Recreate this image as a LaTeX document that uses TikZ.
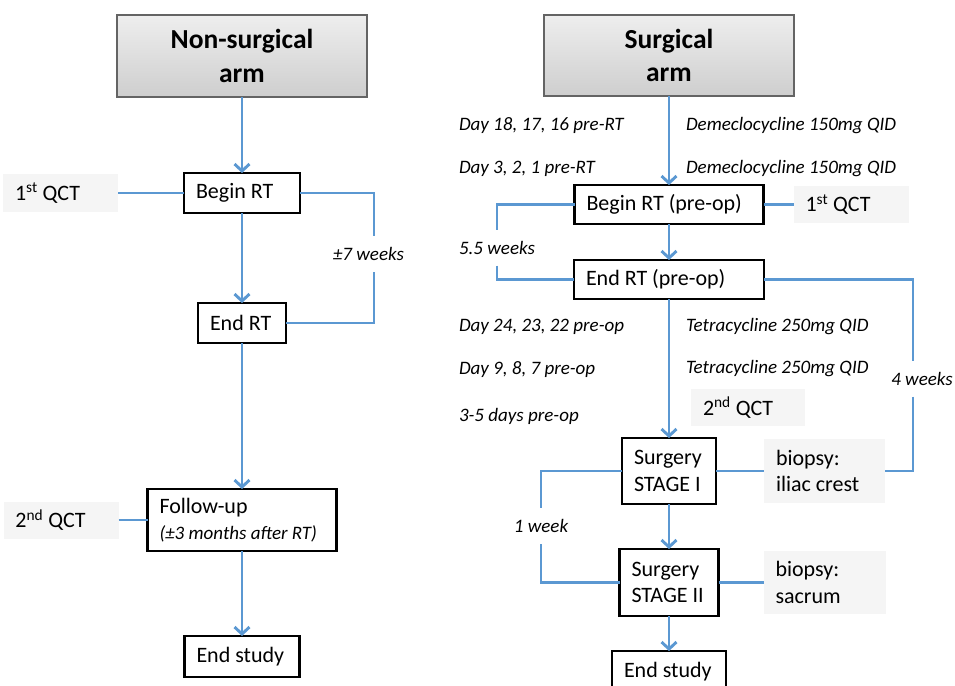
\documentclass[tikz,border=0pt]{standalone}
\usepackage{fontspec}
\setmainfont{Carlito}
\usetikzlibrary{arrows.meta}
\usetikzlibrary{positioning}
\definecolor{lineblue}{RGB}{91,152,210}
\definecolor{headtop}{RGB}{238,238,238}
\definecolor{headbottom}{RGB}{206,206,206}
\definecolor{headline}{RGB}{100,100,100}
\definecolor{sidefill}{RGB}{245,245,245}
\tikzset{
	x=1pt, y=-1pt,
	every node/.append style={align=flush center, outer sep=0pt},
	head/.style={draw=headline,
		line width=1.8pt,
		top color=headtop,
		bottom color=headbottom,
		minimum width=250pt,
		font=\fontsize{27.5}{33.5}\selectfont\bfseries},
	stage/.style={draw,
		line width=2.6pt,
		inner xsep=12pt,
		inner ysep=0pt,
		align=flush left,
		font=\fontsize{22}{26.5}\selectfont},
	sidebox/.style={fill=sidefill,
		inner xsep=12pt,
		inner ysep=0pt,
		align=flush left,
		font=\fontsize{22}{26.5}\selectfont},
	note/.style={inner sep=0pt,
		anchor=base west,
		font=\fontsize{19}{22}\selectfont\itshape},
	gap/.style={inner sep=0pt,
		minimum height=36pt,
		font=\fontsize{19}{22}\selectfont\itshape},
	link/.style={draw=lineblue, line width=2.9pt},
	flow/.style={link, -{Straight Barb[length=7pt,width=15pt]}}
}
\begin{document}
\begin{tikzpicture}

	\useasboundingbox (0,0) rectangle (955,685);

	\node [head, minimum height=82pt] (nshead) at (242,56) {Non-surgical\\arm};
	\node [stage, below=76pt of nshead, text width=92pt, minimum height=40pt] (nbegin) {Begin RT};
	\node [stage, below=90pt of nbegin, text width=64pt, minimum height=40pt] (nend) {End RT};
	\node [stage, below=146pt of nend, text width=165pt, minimum height=62pt] (nfollow) {Follow-up\\{\fontsize{19}{22}\selectfont\itshape(±3 months after RT)}};
	\node [stage, below=85pt of nfollow, text width=91pt, minimum height=41pt] (nstudy) {End study};
	\node [sidebox, left=66pt of nbegin, text width=91pt, minimum height=38pt] (nqct1) {1\textsuperscript{st} QCT};
	\node [sidebox, left=29pt of nfollow, text width=91pt, minimum height=37pt] (nqct2) {2\textsuperscript{nd} QCT};
	\node [gap] (w7) at (374,254) {±7 weeks\hspace{11pt}};

	\node [head, minimum height=81pt] (shead) at (669,55.5) {Surgical\\arm};
	\node [stage, below=89pt of shead, text width=165pt, minimum height=39pt] (sbegin) {Begin RT (pre-op)};
	\node [stage, below=36pt of sbegin, text width=166pt, minimum height=39pt] (send) {End RT (pre-op)};
	\node [stage, below=139pt of send, text width=70pt, minimum height=66pt] (ssurg1) {Surgery\\STAGE I};
	\node [stage, below=45pt of ssurg1, text width=75pt, minimum height=67pt] (ssurg2) {Surgery\\STAGE II};
	\node [stage, below=35pt of ssurg2, text width=90pt, minimum height=41pt] (sstudy) {End study};
	\node [sidebox, right=30pt of sbegin, text width=91pt, minimum height=37pt] (sqct1) {1\textsuperscript{st} QCT};
	\node [sidebox, text width=90pt, minimum height=37pt] (sqct2) at (748,407.5) {2\textsuperscript{nd} QCT};
	\node [sidebox, right=48pt of ssurg1, text width=97pt, minimum height=64pt] (sbiop1) {biopsy:\\iliac crest};
	\node [sidebox, right=45pt of ssurg2, text width=98pt, minimum height=63pt] (sbiop2) {biopsy:\\sacrum};

	\node [note] (day18) at (459,130) {Day 18, 17, 16 pre-RT};
	\node [note] (demec1) at (686,130) {Demeclocycline 150mg QID};
	\node [note] (day3) at (459,173) {Day 3, 2, 1 pre-RT};
	\node [note] (demec2) at (686,173) {Demeclocycline 150mg QID};
	\node [note] (day24) at (459,331) {Day 24, 23, 22 pre-op};
	\node [note] (tetra1) at (686,331) {Tetracycline 250mg QID};
	\node [note] (day9) at (459,374) {Day 9, 8, 7 pre-op};
	\node [note] (tetra2) at (686,373) {Tetracycline 250mg QID};
	\node [note] (day35) at (459,421) {3-5 days pre-op};
	\node [gap] (w55) at (497,247.5) {5.5 weeks};
	\node [gap] (w4) at (913,378.5) {\hspace{18pt}4 weeks};
	\node [gap] (w1) at (541,526) {1 week};

	\draw [flow] (nshead) -- (nbegin);
	\draw [flow] (nbegin) -- (nend);
	\draw [flow] (nend) -- (nfollow);
	\draw [flow] (nfollow) -- (nstudy);
	\draw [link] (nqct1) -- (nbegin);
	\draw [link] (nqct2) -- (nfollow);
	\draw [link] (nbegin.east) -| (w7.north);
	\draw [link] (w7.south) |- (nend.east);

	\draw [flow] (shead) -- (sbegin);
	\draw [flow] (sbegin) -- (send);
	\draw [flow] (send) -- (ssurg1);
	\draw [flow] (ssurg1) -- (ssurg2);
	\draw [flow] (ssurg2) -- (sstudy);
	\draw [link] (sbegin) -- (sqct1);
	\draw [link] (ssurg1) -- (sbiop1);
	\draw [link] (ssurg2) -- (sbiop2);
	\draw [link] (sbegin.west) -| (w55.north);
	\draw [link] (w55.south) |- (send.west);
	\draw [link] (send.east) -| (w4.north);
	\draw [link] (w4.south) |- (sbiop1.east);
	\draw [link] (ssurg1.west) -| (w1.north);
	\draw [link] (w1.south) |- (ssurg2.west);

\end{tikzpicture}
\end{document}
